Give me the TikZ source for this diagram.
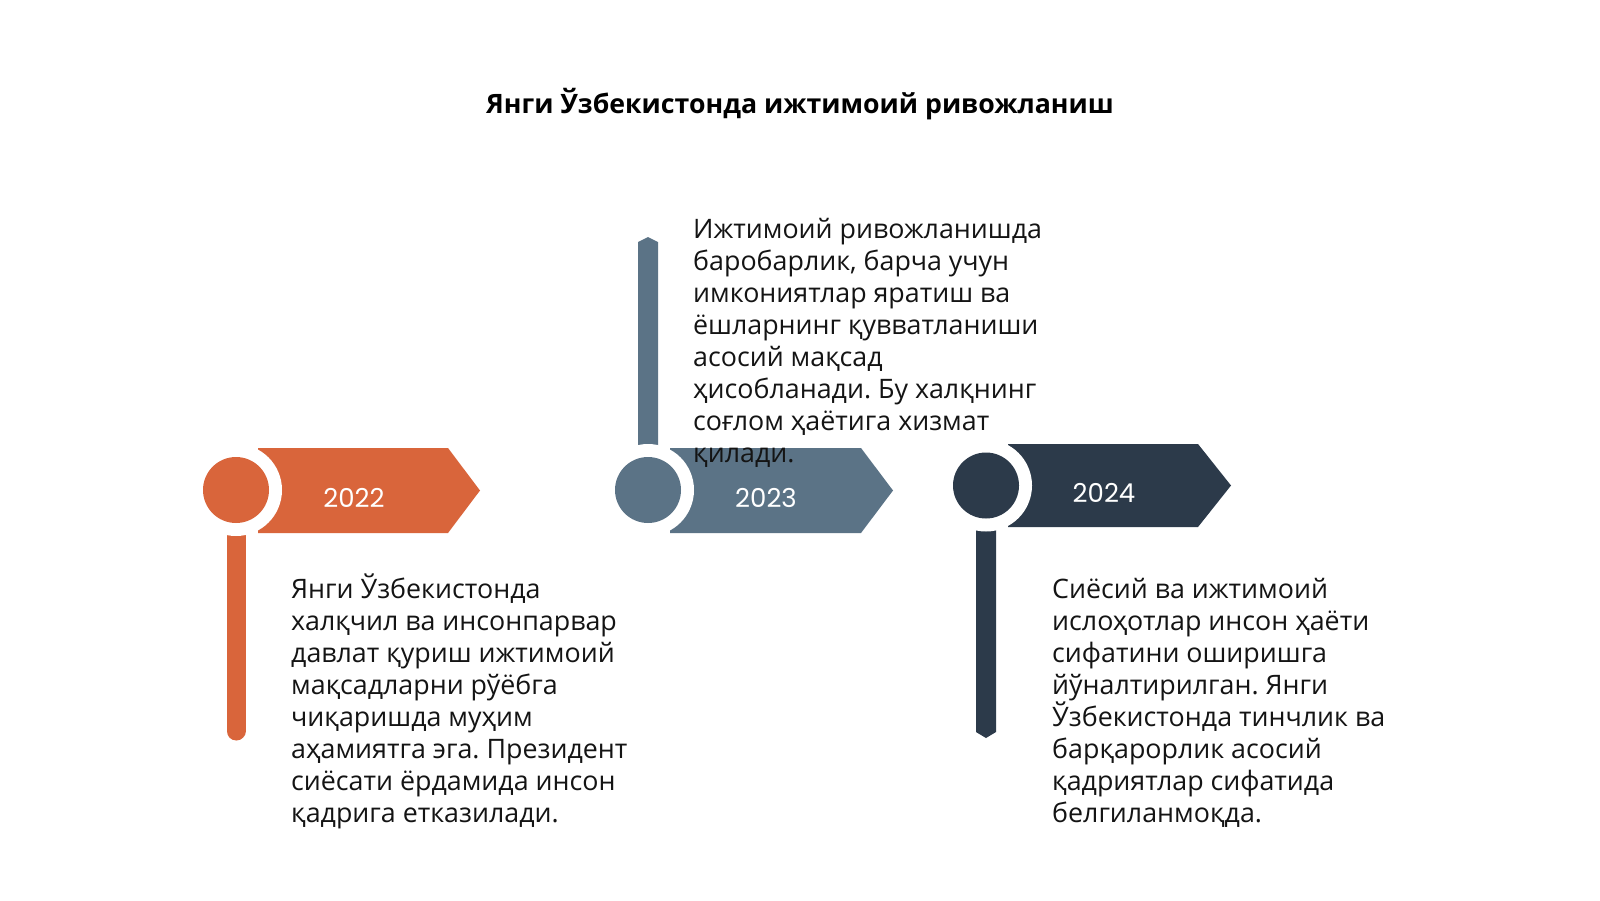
\documentclass[tikz,border=0pt]{standalone}
\usepackage{fontspec}
\setmainfont{Open Sans}
\newfontfamily\yearfont{Poppins}
\definecolor{corange}{HTML}{D9653B}
\definecolor{csteel}{HTML}{5B7386}
\definecolor{cnavy}{HTML}{2C3A4A}
\frenchspacing
\begin{document}
\begin{tikzpicture}[x=1pt,y=-1pt,
  bodytext/.style={anchor=north west,inner sep=0pt,align=left,text=black!92,
    font=\fontsize{26.8}{31.95}\selectfont},
  yeartext/.style={inner sep=0pt,text=white,font=\yearfont\fontsize{26}{30}\selectfont},
  ring/.style={fill=white,draw=none},
]
\useasboundingbox (0,0) rectangle (1600,900);
\fill[white] (0,0) rectangle (1600,900);

\node[inner sep=0pt,font=\bfseries\fontsize{26.7}{30}\selectfont] (title) at (800,104) {Янги Ўзбекистонда ижтимоий ривожланиш};

% ---- 2022
\draw[corange,line width=19pt,line cap=round] (236,500) -- (236,731);
\fill[corange] (258,448) -- (448,448) -- (480,490.5) -- (448,533) -- (258,533) -- cycle;
\fill[ring] (236,490) circle (46);
\node[circle,fill=corange,minimum size=66pt,inner sep=0pt] (c1) at (236,490) {};
\node[yeartext] (y1) at (354,498) {2022};
\node[bodytext] (t1) at (291,573.5) {\rule{0pt}{25pt}Янги Ўзбекистонда\\халқчил ва инсонпарвар\\давлат қуриш ижтимоий\\мақсадларни рўёбга\\чиқаришда муҳим\\аҳамиятга эга. Президент\\сиёсати ёрдамида инсон\\қадрига етказилади.};

% ---- 2023
\fill[csteel] (638,490) -- (638,242) -- (648,237) -- (658,242) -- (658,490) -- cycle;
\fill[csteel] (670,448) -- (861,448) -- (893,490.5) -- (861,533) -- (670,533) -- cycle;
\fill[ring] (648,490) circle (46);
\node[circle,fill=csteel,minimum size=66pt,inner sep=0pt] (c2) at (648,490) {};
\node[yeartext] (y2) at (766,498) {2023};
\node[bodytext] (t2) at (693,213.5) {\rule{0pt}{25pt}Ижтимоий ривожланишда\\баробарлик, барча учун\\имкониятлар яратиш ва\\ёшларнинг қувватланиши\\асосий мақсад\\ҳисобланади. Бу халқнинг\\соғлом ҳаётига хизмат\\қилади.};

% ---- 2024
\fill[cnavy] (976,486) -- (976,732) -- (986,738) -- (996,732) -- (996,486) -- cycle;
\fill[cnavy] (1008,444) -- (1198,444) -- (1231,485.5) -- (1198,527) -- (1008,527) -- cycle;
\fill[ring] (986,485.5) circle (46);
\node[circle,fill=cnavy,minimum size=66pt,inner sep=0pt] (c3) at (986,485.5) {};
\node[yeartext] (y3) at (1104,493) {2024};
\node[bodytext] (t3) at (1052,573.5) {\rule{0pt}{25pt}Сиёсий ва ижтимоий\\ислоҳотлар инсон ҳаёти\\сифатини оширишга\\йўналтирилган. Янги\\Ўзбекистонда тинчлик ва\\барқарорлик асосий\\қадриятлар сифатида\\белгиланмоқда.};
\end{tikzpicture}
\end{document}
